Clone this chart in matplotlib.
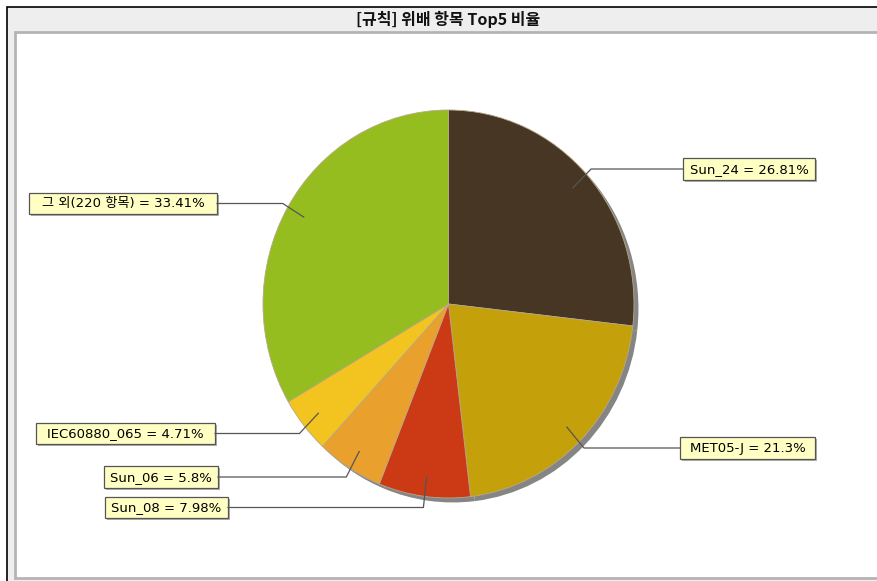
import numpy as np
import matplotlib
matplotlib.use("Agg")
import matplotlib.pyplot as plt
from matplotlib.patches import Rectangle

# data
labels = ["Sun_24", "MET05-J", "Sun_08", "Sun_06", "IEC60880_065", "그 외(220 항목)"]
values = [26.81, 21.3, 7.98, 5.8, 4.71, 33.41]
value_text = ["26.81%", "21.3%", "7.98%", "5.8%", "4.71%", "33.41%"]
colors = ["#463623", "#c4a00a", "#cb3a15", "#e9a02c", "#f3c41f", "#96bd1f"]
title = "[규칙] 위배 항목 Top5 비율"

# label box extents in pixels (x0, x1, y_top, y_bottom)
boxes = [(683, 815, 158, 180), (680, 815, 437, 459), (105, 228, 497, 518),
         (104, 218, 466, 488), (36, 215, 423, 444), (29, 217, 193, 214)]

W, H = 878, 581
fig = plt.figure(figsize=(W / 100, H / 100), dpi=100)

# background frame
bg = fig.add_axes([0, 0, 1, 1], zorder=0)
bg.set_xlim(0, W)
bg.set_ylim(H, 0)
bg.axis("off")
bg.add_patch(Rectangle((7, 7), W, H, fc="#eeeeee", ec="black", lw=1.2))
bg.add_patch(Rectangle((15.5, 31.5), W, 546, fc="white", ec="#b4b4b4", lw=2))
bg.text(448, 19, title, ha="center", va="center", fontsize=11.5, fontweight="bold",
        family=["Noto Sans CJK KR", "DejaVu Sans"], color="#111111")

# pie axes (slightly taller than wide like the original)
px0, px1, py0, py1 = 263, 634, 110, 498
ax = fig.add_axes([px0 / W, (H - py1) / H, (px1 - px0) / W, (py1 - py0) / H], zorder=1)
ax.patch.set_visible(False)
ax.pie(values, colors=["#858585"] * len(values), startangle=90, counterclock=False,
       center=(0.024, -0.023), wedgeprops=dict(linewidth=0))
wedges, _ = ax.pie(values, colors=colors, startangle=90, counterclock=False,
                   wedgeprops=dict(edgecolor="#b8a888", linewidth=0.6))
ax.set_aspect("auto")
ax.set_xlim(-1, 1)
ax.set_ylim(-1, 1)
ax.axis("off")

# labels and leader lines
top = fig.add_axes([0, 0, 1, 1], zorder=2)
top.set_xlim(0, W)
top.set_ylim(H, 0)
top.axis("off")
to_px = ax.transData + top.transData.inverted()

for w, lab, vt, (x0, x1, yt, yb) in zip(wedges, labels, value_text, boxes):
    mid = np.deg2rad((w.theta1 + w.theta2) / 2)
    a = to_px.transform((0.9 * np.cos(mid), 0.9 * np.sin(mid)))
    e = to_px.transform((1.03 * np.cos(mid), 1.03 * np.sin(mid)))
    ym = (yt + yb) / 2
    xend = x0 if np.cos(mid) > 0 else x1
    top.plot([a[0], e[0], xend], [a[1], ym, ym], color="#555555", lw=0.9)
    top.add_patch(Rectangle((x0 + 2, yt + 2), x1 - x0, yb - yt, fc="#b0b0b0", ec="none"))
    top.add_patch(Rectangle((x0, yt), x1 - x0, yb - yt, fc="#ffffc4", ec="#555555", lw=0.9))
    top.text((x0 + x1) / 2, ym + 0.5, f"{lab} = {vt}", ha="center", va="center",
             fontsize=9.5, family=["DejaVu Sans", "Noto Sans CJK KR"], color="black")

fig.savefig("out.png", dpi=100)
